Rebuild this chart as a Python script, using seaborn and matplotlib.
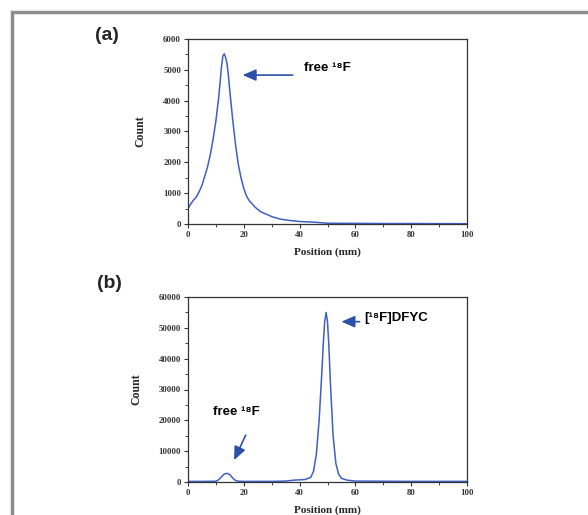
import numpy as np
import pandas as pd
import seaborn as sns
import matplotlib.pyplot as plt
from matplotlib.patches import Rectangle
from matplotlib.ticker import MultipleLocator

# panel (a): free 18F radio-TLC
pos_a = [0, 1, 2, 3, 4, 5, 6, 7, 8, 9, 10, 11, 11.5, 12, 12.5, 13, 13.5, 14, 14.5, 15,
         16, 17, 18, 19, 20, 21, 22, 24, 26, 28, 30, 33, 36, 40, 45, 48, 50, 60, 70, 80, 90, 100]
cnt_a = [500, 650, 780, 880, 1050, 1250, 1550, 1850, 2250, 2750, 3350, 4100, 4600, 5100,
         5450, 5520, 5400, 5200, 4800, 4300, 3400, 2600, 1950, 1500, 1150, 900, 750, 550,
         400, 320, 240, 160, 120, 80, 60, 40, 25, 20, 15, 15, 12, 10]

# panel (b): [18F]DFYC radio-TLC
pos_b = [0, 5, 10, 11, 12, 13, 14, 15, 16, 17, 18, 20, 25, 30, 35, 38, 40, 42, 44, 45, 46,
         47, 48, 48.5, 49, 49.5, 50, 50.5, 51, 52, 53, 54, 55, 57, 60, 70, 80, 90, 100]
cnt_b = [200, 200, 250, 700, 1700, 2600, 2800, 2400, 1300, 500, 250, 200, 200, 200, 300, 600,
         700, 800, 1500, 3500, 9000, 20000, 36000, 45000, 52000, 55000, 52000, 44000, 33000,
         15000, 6000, 2500, 1200, 600, 300, 250, 200, 200, 200]

sns.set_style("ticks")
plt.rcParams['font.family'] = ['Liberation Serif', 'DejaVu Serif']

line_c = '#3f5fc4'
arrow_c = '#2c50a8'
lab_font = ['Liberation Sans', 'DejaVu Sans']

fig = plt.figure(figsize=(5.88, 5.15), dpi=100)
fig.patches.append(Rectangle((12 / 588, -0.1), 1.2, 1 - 12 / 515 + 0.1, transform=fig.transFigure,
                             fill=False, edgecolor='#8c8c8c', linewidth=2.5))

ax1 = fig.add_axes([188 / 588, 1 - 224 / 515, 279 / 588, 185 / 515])
ax2 = fig.add_axes([188 / 588, 1 - 482 / 515, 279 / 588, 185 / 515])

df_a = pd.DataFrame({'Position': pos_a, 'Count': cnt_a})
df_b = pd.DataFrame({'Position': pos_b, 'Count': cnt_b})
sns.lineplot(data=df_a, x='Position', y='Count', ax=ax1, color=line_c, linewidth=1.1)
sns.lineplot(data=df_b, x='Position', y='Count', ax=ax2, color=line_c, linewidth=1.1)

for ax, ymax, ymaj in [(ax1, 6000, 1000), (ax2, 60000, 10000)]:
    ax.set_xlim(0, 100)
    ax.set_ylim(0, ymax)
    ax.xaxis.set_major_locator(MultipleLocator(20))
    ax.xaxis.set_minor_locator(MultipleLocator(10))
    ax.yaxis.set_major_locator(MultipleLocator(ymaj))
    ax.yaxis.set_minor_locator(MultipleLocator(ymaj / 2))
    ax.tick_params(which='major', length=3, width=0.8, labelsize=6.3, pad=2, colors='#333333')
    ax.tick_params(which='minor', length=2, width=0.6)
    for lab in ax.get_xticklabels() + ax.get_yticklabels():
        lab.set_fontweight('bold')
    for s in ax.spines.values():
        s.set_linewidth(0.9)
        s.set_color('#333333')
    ax.set_xlabel('Position (mm)', fontsize=8, fontweight='bold', labelpad=6)
    ax.set_ylabel('Count', fontsize=8.5, fontweight='bold', labelpad=12)

fig.text(95 / 588, 1 - 35 / 515, '(a)', fontsize=14, fontweight='bold', family=lab_font, va='center')
fig.text(97 / 588, 1 - 284 / 515, '(b)', fontsize=14, fontweight='bold', family=lab_font, va='center')

akw = dict(arrowstyle='-|>,head_length=0.8,head_width=0.35', color=arrow_c, lw=1.2)
ax1.annotate('', xy=(18.6, 4830), xytext=(38.5, 4830), arrowprops=akw)
ax1.text(41.5, 5060, 'free ¹⁸F', fontsize=9.5, fontweight='bold', family=lab_font,
         va='center', color='black')

ax2.annotate('', xy=(54, 52000), xytext=(62.5, 52000), arrowprops=akw)
ax2.text(63, 53200, '[¹⁸F]DFYC', fontsize=9.5, fontweight='bold', family=lab_font,
         va='center', color='black')

ax2.annotate('', xy=(16.1, 6300), xytext=(21.1, 16000), arrowprops=akw)
ax2.text(17.5, 22700, 'free ¹⁸F', fontsize=9.5, fontweight='bold', family=lab_font,
         va='center', ha='center', color='black')

fig.savefig('out.png', dpi=100)
